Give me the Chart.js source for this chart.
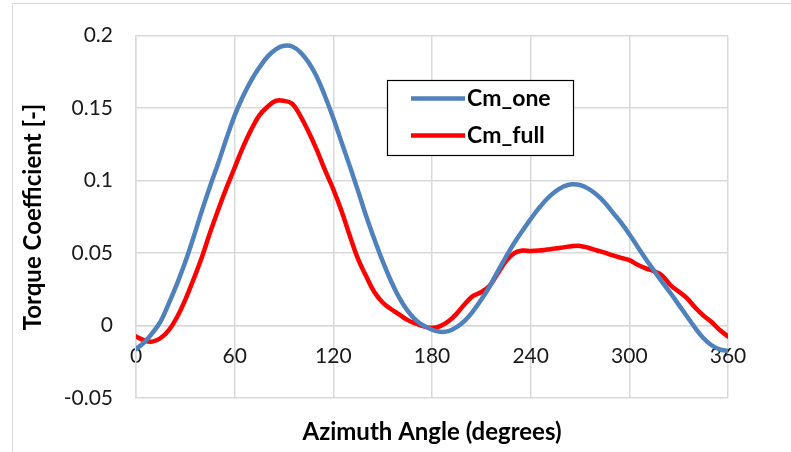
<!DOCTYPE html>
<html>
<head>
<meta charset="UTF-8">
<title>Torque Coefficient</title>
<style>
body {
	margin: 0;
	background-color: #ffffff;
}
.chart-wrap {
	width: 791px;
	height: 452px;
}
</style>
<script src="https://cdn.jsdelivr.net/npm/chart.js@4"></script>
</head>
<body>
<div class="chart-wrap">
	<canvas id="cmChart" width="791" height="452"></canvas>
</div>
<script>
// azimuth angle in degrees
const angles = [
  0, 5, 10, 15, 20, 25, 30, 35, 40, 45, 50, 55, 60, 65, 70, 75, 80, 85,
  90, 95, 100, 105, 110, 115, 120, 125, 130, 135, 140, 145, 150, 155, 160, 165, 170, 175,
  180, 185, 190, 195, 200, 205, 210, 215, 220, 225, 230, 235, 240, 245, 250, 255, 260, 265,
  270, 275, 280, 285, 290, 295, 300, 305, 310, 315, 320, 325, 330, 335, 340, 345, 350, 355, 360
];

// single blade
const cmOne = [
  -0.016, -0.0115, -0.005, 0.003, 0.0155, 0.029, 0.044, 0.061, 0.079, 0.096, 0.112, 0.129, 0.145, 0.158, 0.169, 0.178, 0.1855, 0.1905,
  0.193, 0.1925, 0.1885, 0.1815, 0.1715, 0.158, 0.143, 0.1265, 0.110, 0.093, 0.0755, 0.0595, 0.0445, 0.031, 0.0195, 0.0105, 0.004, 0.000,
  -0.0028, -0.0042, -0.0038, -0.001, 0.0035, 0.010, 0.018, 0.027, 0.0375, 0.0475, 0.057, 0.0655, 0.0735, 0.081, 0.0875, 0.0925, 0.096, 0.0975,
  0.097, 0.0945, 0.0905, 0.085, 0.078, 0.071, 0.063, 0.0545, 0.046, 0.038, 0.030, 0.0225, 0.0145, 0.0065, -0.0015, -0.0085, -0.0135, -0.0163, -0.0174
];

// full rotor
const cmFull = [
  -0.0074, -0.0102, -0.011, -0.0085, -0.003, 0.006, 0.018, 0.032, 0.047, 0.064, 0.080, 0.095, 0.109, 0.123, 0.135, 0.145, 0.151, 0.155,
  0.155, 0.153, 0.1445, 0.1335, 0.121, 0.107, 0.094, 0.079, 0.062, 0.046, 0.034, 0.023, 0.016, 0.0115, 0.0078, 0.004, 0.0015, -0.0005,
  -0.0015, -0.0003, 0.003, 0.0083, 0.015, 0.0205, 0.0232, 0.0275, 0.036, 0.0445, 0.050, 0.0518, 0.0515, 0.0518, 0.0525, 0.0532, 0.054, 0.0548,
  0.055, 0.0537, 0.052, 0.0503, 0.0485, 0.0468, 0.0452, 0.042, 0.0395, 0.0375, 0.0345, 0.028, 0.0235, 0.019, 0.0125, 0.007, 0.0025, -0.003, -0.0074
];

const xTicks = ['0', '60', '120', '180', '240', '300', '360'];
const yTicks = ['-0.05', '0', '0.05', '0.1', '0.15', '0.2'];

const FONT = 'Lato, Carlito, sans-serif';
const GRID = '#d9d9d9';

function toPoints(values) {
  return angles.map((a, i) => ({ x: a, y: values[i] }));
}

// white page with the light grey frame round the whole chart
const frame = {
  id: 'frame',
  beforeDraw(chart) {
    const ctx = chart.ctx;
    ctx.save();
    ctx.fillStyle = '#ffffff';
    ctx.fillRect(0, 0, chart.width, chart.height);
    ctx.strokeStyle = GRID;
    ctx.lineWidth = 1;
    ctx.strokeRect(12.5, 3.5, chart.width, chart.height);
    ctx.restore();
  }
};

// boxed legend sitting inside the plot
const legendBox = {
  id: 'legendBox',
  afterDatasetsDraw(chart) {
    const ctx = chart.ctx;
    ctx.save();
    ctx.fillStyle = '#ffffff';
    ctx.fillRect(387, 80, 186, 75);
    ctx.strokeStyle = '#000000';
    ctx.lineWidth = 1.2;
    ctx.strokeRect(387.5, 80.5, 186, 75);
    chart.data.datasets.forEach((ds, i) => {
      const y = 98.5 + i * 37;
      ctx.strokeStyle = ds.borderColor;
      ctx.lineWidth = ds.borderWidth;
      ctx.beginPath();
      ctx.moveTo(411, y);
      ctx.lineTo(465, y);
      ctx.stroke();
      ctx.fillStyle = '#000000';
      ctx.font = 'bold 23px ' + FONT;
      ctx.textAlign = 'left';
      ctx.textBaseline = 'middle';
      ctx.fillText(ds.label, 467, y);
    });
    ctx.restore();
  }
};

new Chart(document.getElementById('cmChart'), {
  type: 'line',
  data: {
    datasets: [
      {
        label: 'Cm_one',
        data: toPoints(cmOne),
        borderColor: '#4f81bd',
        borderWidth: 4.5,
        pointRadius: 0,
        tension: 0.4,
        borderCapStyle: 'round',
        borderJoinStyle: 'round'
      },
      {
        label: 'Cm_full',
        data: toPoints(cmFull),
        borderColor: '#ff0000',
        borderWidth: 4.5,
        pointRadius: 0,
        tension: 0.4,
        borderCapStyle: 'round',
        borderJoinStyle: 'round'
      }
    ]
  },
  options: {
    responsive: false,
    animation: false,
    devicePixelRatio: 1,
    layout: { padding: { left: 19, top: 26, right: 63, bottom: 0 } },
    plugins: {
      legend: { display: false },
      tooltip: { enabled: false },
      title: {
        display: true,
        position: 'bottom',
        fullSize: false,
        text: 'Azimuth Angle (degrees)',
        color: '#000000',
        font: { family: FONT, size: 24, weight: 'bold' },
        padding: { top: 20, bottom: 5 }
      }
    },
    scales: {
      x: {
        type: 'linear',
        position: { y: 0 },
        min: 0,
        max: 360,
        ticks: {
          stepSize: 60,
          padding: 18,
          color: '#1a1a1a',
          font: { family: FONT, size: 21 },
          callback: (v) => xTicks[Math.round(v / 60)]
        },
        grid: { color: GRID, lineWidth: 1.5, drawTicks: false },
        border: { display: true, color: GRID, width: 1.5 }
      },
      y: {
        min: -0.05,
        max: 0.2,
        ticks: {
          stepSize: 0.05,
          padding: 23,
          color: '#1a1a1a',
          font: { family: FONT, size: 21 },
          callback: (v) => yTicks[Math.round((v + 0.05) / 0.05)]
        },
        grid: { color: GRID, lineWidth: 1.5, drawTicks: false },
        border: { display: true, color: GRID, width: 1.5 },
        title: {
          display: true,
          text: 'Torque Coefficient [-]',
          color: '#000000',
          font: { family: FONT, size: 24, weight: 'bold' },
          padding: 0
        },
        afterFit: (scale) => { scale.width = 117; }
      }
    }
  },
  plugins: [frame, legendBox]
});
</script>
</body>
</html>
